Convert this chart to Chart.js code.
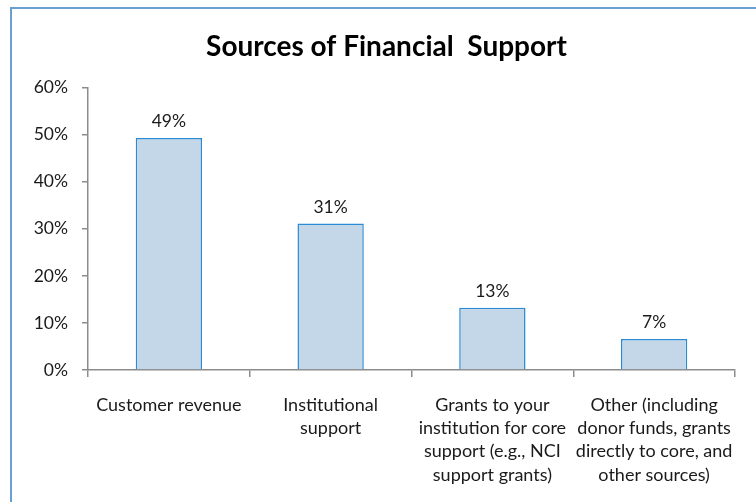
<!DOCTYPE html>
<html>
<head>
<meta charset="utf-8">
<script src="https://cdn.jsdelivr.net/npm/chart.js@4/dist/chart.umd.min.js"></script>
<style>
  html, body { margin: 0; padding: 0; background: #fff; overflow: hidden; }
  #wrap { position: relative; width: 756px; height: 502px; }
  #frame { position: absolute; left: 10px; top: 7px; width: 760px; height: 520px;
           border: 2px solid #6a9fd1; box-sizing: border-box; pointer-events: none; }
  canvas { position: absolute; left: 0; top: 0; }
</style>
</head>
<body>
<div id="wrap">
  <canvas id="c" width="756" height="502"></canvas>
  <div id="frame"></div>
</div>
<script>
const titleText = 'Sources of Financial  Support';
const categories = [
  ['Customer revenue'],
  ['Institutional', 'support'],
  ['Grants to your', 'institution for core', 'support (e.g., NCI', 'support grants)'],
  ['Other (including', 'donor funds, grants', 'directly to core, and', 'other sources)']
];
const values = [49.3, 31.1, 13.2, 6.6];
const yTicks = [0, 10, 20, 30, 40, 50, 60];

const FONT = 'Lato, "Open Sans", sans-serif';

const dataLabels = {
  id: 'dataLabels',
  afterDatasetsDraw(chart) {
    const ctx = chart.ctx;
    const meta = chart.getDatasetMeta(0);
    ctx.save();
    ctx.font = '17.5px ' + FONT;
    ctx.fillStyle = '#1a1a1a';
    ctx.textAlign = 'center';
    ctx.textBaseline = 'alphabetic';
    meta.data.forEach((bar, i) => {
      ctx.fillText(Math.round(values[i]) + '%', bar.x, bar.y - 11);
    });
    ctx.restore();
  }
};

// centre the title on the outer frame rather than the canvas
const titleCentre = {
  id: 'titleCentre',
  afterLayout(chart) {
    const t = chart.titleBlock;
    if (t) { t.left = 10; t.right = 763; t.width = 753; }
  }
};

new Chart(document.getElementById('c'), {
  type: 'bar',
  data: {
    labels: categories,
    datasets: [{
      data: values,
      backgroundColor: '#c4d7e9',
      borderColor: '#2a8ad4',
      borderWidth: 1.5,
      barPercentage: 0.41,
      categoryPercentage: 1.0
    }]
  },
  options: {
    responsive: false,
    animation: false,
    layout: { padding: { left: 0, right: 21, top: 0, bottom: 0 } },
    plugins: {
      legend: { display: false },
      tooltip: { enabled: false },
      title: {
        display: true,
        text: titleText,
        color: '#000',
        font: { family: FONT, size: 28, weight: 'bold', lineHeight: 1.2 },
        padding: { top: 30, bottom: 24 }
      }
    },
    scales: {
      x: {
        grid: { display: true, drawOnChartArea: false, offset: true, tickLength: 7, color: '#8c8c8c', lineWidth: 1.5 },
        border: { display: true, color: '#8c8c8c', width: 1.5 },
        ticks: { color: '#1a1a1a', font: { family: FONT, size: 18, lineHeight: 1.3 }, padding: 16, maxRotation: 0, autoSkip: false },
        afterFit(scale) { scale.height = 132; }
      },
      y: {
        min: 0, max: 60,
        afterBuildTicks(scale) { scale.ticks = yTicks.map(v => ({ value: v })); },
        grid: { display: true, drawOnChartArea: false, tickLength: 6, color: '#8c8c8c', lineWidth: 1.5 },
        border: { display: true, color: '#8c8c8c', width: 1.5 },
        ticks: { color: '#1a1a1a', font: { family: FONT, size: 17.5 }, padding: 14, callback: v => v + '%' },
        afterFit(scale) { scale.width = 88; }
      }
    }
  },
  plugins: [dataLabels, titleCentre]
});
</script>
</body>
</html>
